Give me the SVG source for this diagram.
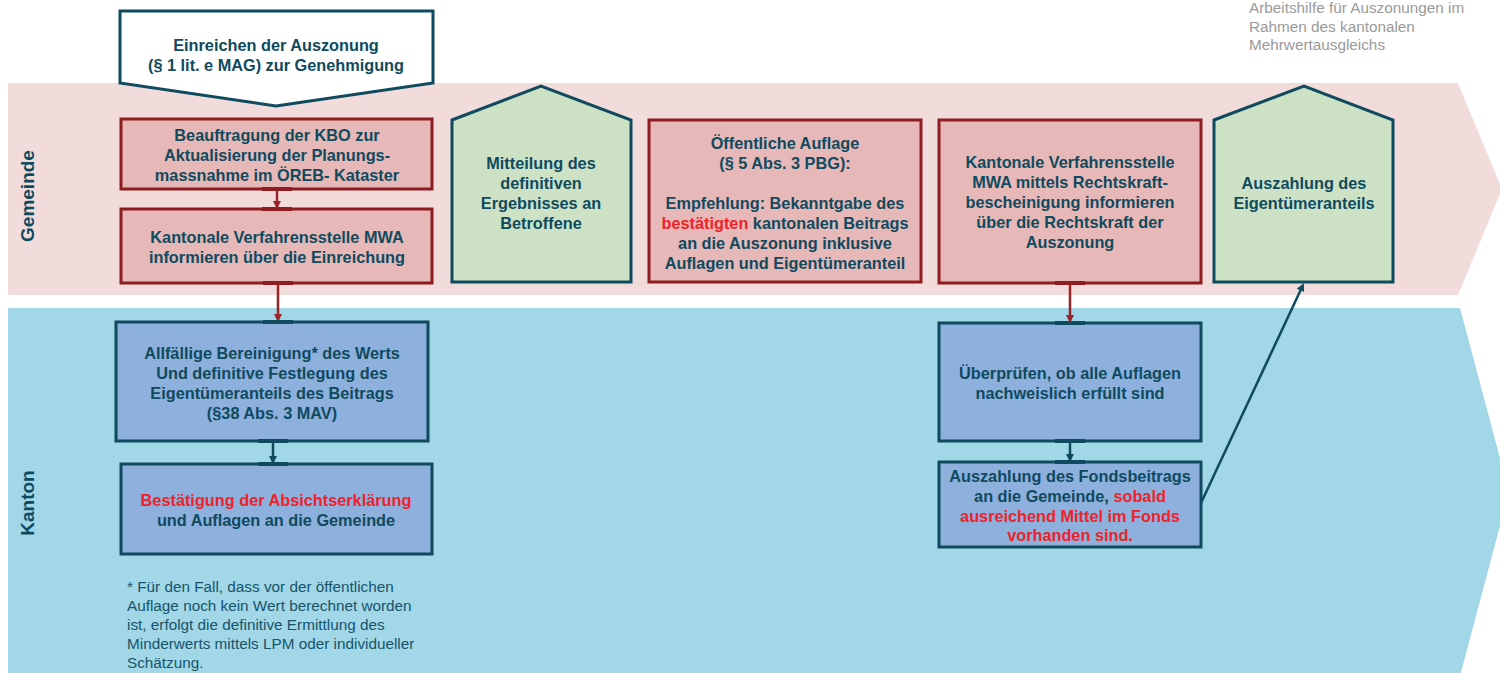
<svg xmlns="http://www.w3.org/2000/svg" width="1500" height="673" viewBox="0 0 1500 673">
<defs>
<style>
.t{font-family:"Liberation Sans",Arial,sans-serif;font-weight:bold;font-size:16.3px;fill:#0F4A5E;text-anchor:middle}
.r{fill:#EE2229}
.fn{font-family:"Liberation Sans",Arial,sans-serif;font-size:15.3px;fill:#17546B}
.hd{font-family:"Liberation Sans",Arial,sans-serif;font-size:15.3px;fill:#9A9A9A}
.lane{font-family:"Liberation Sans",Arial,sans-serif;font-weight:bold;font-size:19px;fill:#0F4A5E;text-anchor:middle}
.red{fill:#E6B8B7;stroke:#8E1C20;stroke-width:3}
.blu{fill:#8DB0DC;stroke:#0F4A5E;stroke-width:3}
.grn{fill:#CDE2C5;stroke:#0F4A5E;stroke-width:3;stroke-linejoin:miter}
.wht{fill:#FFFFFF;stroke:#0F4A5E;stroke-width:3}
.cr{stroke:#9B2428;stroke-width:2.5;fill:none}
.ct{stroke:#0F4A5E;stroke-width:2.5;fill:none}
</style>
<marker id="ar" markerWidth="8" markerHeight="8" refX="6" refY="4" orient="auto" markerUnits="userSpaceOnUse" viewBox="0 0 8 8"><path d="M0,0 L8,4 L0,8 z" fill="#9B2428"/></marker>
<marker id="at" markerWidth="8" markerHeight="8" refX="6" refY="4" orient="auto" markerUnits="userSpaceOnUse" viewBox="0 0 8 8"><path d="M0,0 L8,4 L0,8 z" fill="#0F4A5E"/></marker>
</defs>
<rect width="1500" height="673" fill="#FFFFFF"/>
<g id="lanes">
<polygon points="8,83 1458,83 1502,189 1458,295 8,295" fill="#F2DCDB"/>
<polygon points="8,308 1460,308 1509,492 1460,676 8,676" fill="#A1D7E6"/>
<text class="lane" transform="translate(34,196) rotate(-90)">Gemeinde</text>
<text class="lane" transform="translate(34,503) rotate(-90)">Kanton</text>
</g>
<g id="header">
<text class="hd" x="1249" y="13">Arbeitshilfe für Auszonungen im</text>
<text class="hd" x="1249" y="32">Rahmen des kantonalen</text>
<text class="hd" x="1249" y="50">Mehrwertausgleichs</text>
</g>
<g id="n0">
<polygon class="wht" points="120,11 433,11 433,83 276,106 120,83"/>
<text class="t" x="276" y="51">Einreichen der Auszonung</text>
<text class="t" x="276" y="71">(§ 1 lit. e MAG) zur Genehmigung</text>
</g>
<g id="n1">
<rect class="red" x="121" y="119" width="311" height="70"/>
<text class="t" x="277" y="141">Beauftragung der KBO zur</text>
<text class="t" x="277" y="161">Aktualisierung der Planungs-</text>
<text class="t" x="277" y="181">massnahme im ÖREB- Kataster</text>
</g>
<g id="n2">
<rect class="red" x="121" y="209" width="311" height="74"/>
<text class="t" x="277" y="243">Kantonale Verfahrensstelle MWA</text>
<text class="t" x="277" y="263">informieren über die Einreichung</text>
</g>
<g id="n3">
<rect class="blu" x="116" y="322" width="312" height="119"/>
<text class="t" x="272" y="359">Allfällige Bereinigung* des Werts</text>
<text class="t" x="272" y="379">Und definitive Festlegung des</text>
<text class="t" x="272" y="399">Eigentümeranteils des Beitrags</text>
<text class="t" x="272" y="419">(§38 Abs. 3 MAV)</text>
</g>
<g id="n4">
<rect class="blu" x="121" y="464" width="311" height="90"/>
<text class="t" x="276" y="506"><tspan class="r">Bestätigung der Absichtserklärung</tspan></text>
<text class="t" x="276" y="526">und Auflagen an die Gemeinde</text>
</g>
<g id="footnote">
<text class="fn" x="127" y="592">* Für den Fall, dass vor der öffentlichen</text>
<text class="fn" x="127" y="611">Auflage noch kein Wert berechnet worden</text>
<text class="fn" x="127" y="630">ist, erfolgt die definitive Ermittlung des</text>
<text class="fn" x="127" y="649">Minderwerts mittels LPM oder individueller</text>
<text class="fn" x="127" y="668">Schätzung.</text>
</g>
<g id="n5">
<polygon class="grn" points="452,120 541,86 631,120 631,282 452,282"/>
<text class="t" x="541" y="169">Mitteilung des</text>
<text class="t" x="541" y="189">definitiven</text>
<text class="t" x="541" y="209">Ergebnisses an</text>
<text class="t" x="541" y="229">Betroffene</text>
</g>
<g id="n6">
<rect class="red" x="649" y="120" width="272" height="162"/>
<text class="t" x="785" y="149">Öffentliche Auflage</text>
<text class="t" x="785" y="169">(§ 5 Abs. 3 PBG):</text>
<text class="t" x="785" y="209">Empfehlung: Bekanntgabe des</text>
<text class="t" x="785" y="229"><tspan class="r">bestätigten</tspan> kantonalen Beitrags</text>
<text class="t" x="785" y="249">an die Auszonung inklusive</text>
<text class="t" x="785" y="269">Auflagen und Eigentümeranteil</text>
</g>
<g id="n7">
<rect class="red" x="939" y="120" width="262" height="163"/>
<text class="t" x="1070" y="168">Kantonale Verfahrensstelle</text>
<text class="t" x="1070" y="188">MWA mittels Rechtskraft-</text>
<text class="t" x="1070" y="208">bescheinigung informieren</text>
<text class="t" x="1070" y="228">über die Rechtskraft der</text>
<text class="t" x="1070" y="248">Auszonung</text>
</g>
<g id="n8">
<polygon class="grn" points="1214,120 1304,86 1393,120 1393,282 1214,282"/>
<text class="t" x="1304" y="189">Auszahlung des</text>
<text class="t" x="1304" y="209">Eigentümeranteils</text>
</g>
<g id="n9">
<rect class="blu" x="939" y="323" width="262" height="118"/>
<text class="t" x="1070" y="379">Überprüfen, ob alle Auflagen</text>
<text class="t" x="1070" y="399">nachweislich erfüllt sind</text>
</g>
<g id="n10">
<rect class="blu" x="939" y="462" width="262" height="85"/>
<text class="t" x="1070" y="482">Auszahlung des Fondsbeitrags</text>
<text class="t" x="1070" y="502">an die Gemeinde, <tspan class="r">sobald</tspan></text>
<text class="t" x="1070" y="522"><tspan class="r">ausreichend Mittel im Fonds</tspan></text>
<text class="t" x="1070" y="541"><tspan class="r">vorhanden sind.</tspan></text>
</g>
<g id="connectors">
<line class="cr" x1="277" y1="189" x2="277" y2="207" marker-end="url(#ar)"/>
<line class="cr" x1="278" y1="283" x2="278" y2="320" marker-end="url(#ar)"/>
<line class="ct" x1="273" y1="441" x2="273" y2="462" marker-end="url(#at)"/>
<line class="cr" x1="1070" y1="283" x2="1070" y2="321" marker-end="url(#ar)"/>
<line class="ct" x1="1070" y1="441" x2="1070" y2="460" marker-end="url(#at)"/>
<line class="ct" x1="1201" y1="503" x2="1303" y2="285" marker-end="url(#at)"/>
<g fill="#8E1C20">
<rect x="262" y="187" width="30" height="4"/>
<rect x="262" y="207" width="30" height="4"/>
<rect x="263" y="281" width="30" height="4"/>
<rect x="1055" y="281" width="30" height="4"/>
</g>
<g fill="#0F4A5E">
<rect x="263" y="320" width="30" height="4"/>
<rect x="258" y="439" width="30" height="4"/>
<rect x="258" y="462" width="30" height="4"/>
<rect x="1055" y="321" width="30" height="4"/>
<rect x="1055" y="439" width="30" height="4"/>
<rect x="1055" y="460" width="30" height="4"/>
</g>
</g>
</svg>
